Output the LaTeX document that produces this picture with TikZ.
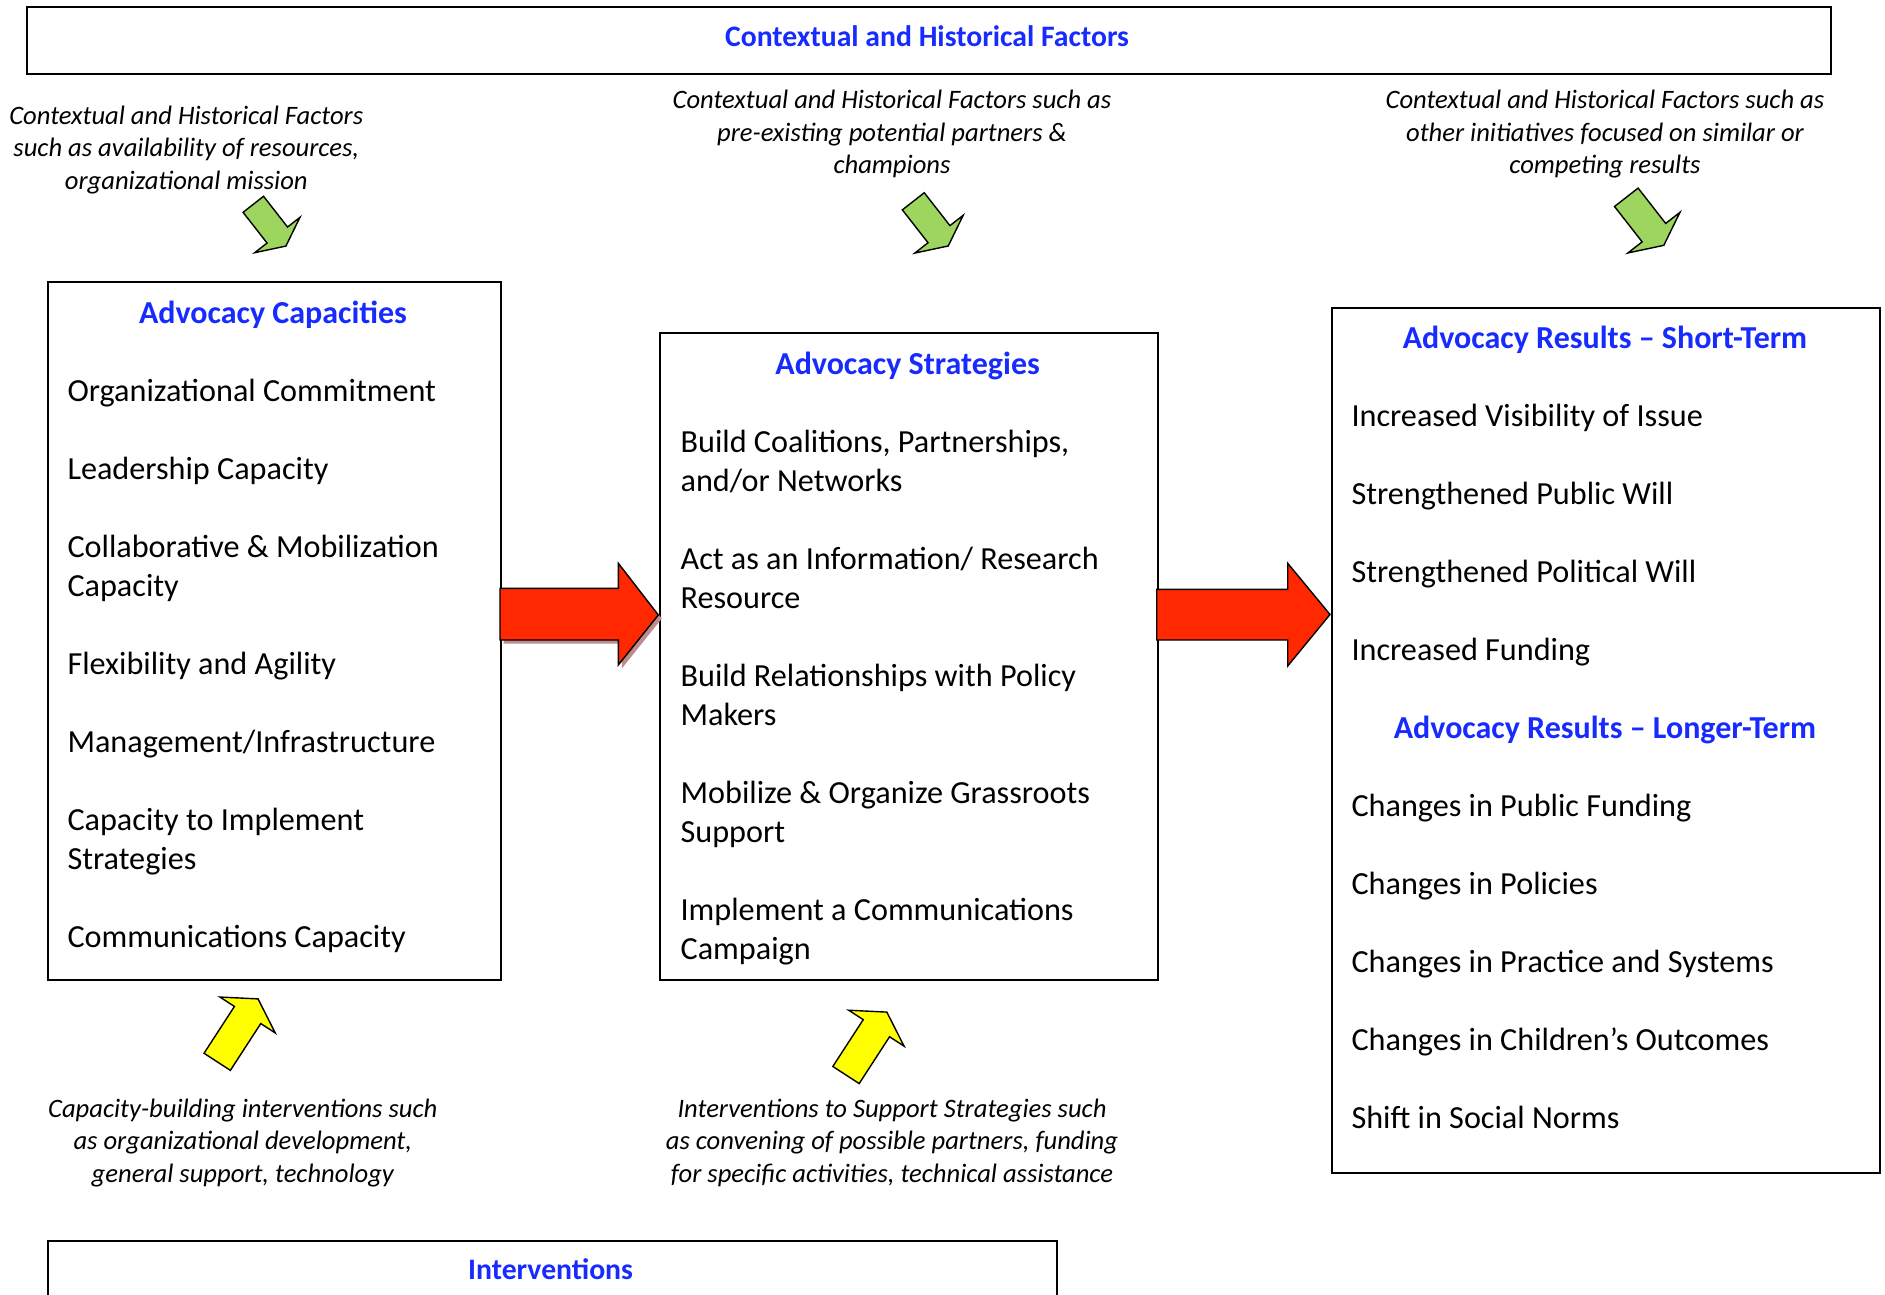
\documentclass[tikz,border=0pt]{standalone}
\usepackage{fontspec}
\setmainfont{Carlito}
\definecolor{tblue}{RGB}{23,43,255}
\definecolor{agreen}{RGB}{158,213,95}
\definecolor{ared}{RGB}{255,40,0}
\definecolor{ashadow}{RGB}{190,140,140}
\definecolor{ayellow}{RGB}{255,255,0}
\newcommand\blockarr[8]{%
  \draw[#1, shift={#2}, rotate=#3, scale=#8] (0,-#4) -- (#5,-#4) -- (#5,-#6) -- (#7,0) -- (#5,#6) -- (#5,#4) -- (0,#4) -- cycle;}
\begin{document}
\begin{tikzpicture}[x=1pt,y=-1pt,line join=miter,
  box/.style={draw, line width=2pt, fill=white, inner sep=0, anchor=north west},
  ttl/.style={font=\bfseries\fontsize{32}{38}\selectfont, text=tblue, inner sep=0, anchor=base},
  smallttl/.style={ttl, font=\bfseries\fontsize{29.7}{36}\selectfont},
  item/.style={font=\fontsize{32.2}{38}\selectfont, inner sep=0, anchor=base west},
  note/.style={font=\itshape\fontsize{26.6}{32}\selectfont, inner sep=0, anchor=base},
  garrow/.style={draw=black, line width=1.4pt, fill=agreen},
  yarrow/.style={draw=black, line width=1.4pt, fill=ayellow},
  rarrow/.style={draw=black, line width=1.4pt, fill=ared}]
\useasboundingbox (0,0) rectangle (1885,1295);
\clip (0,0) rectangle (1885,1295);
\fill[white] (0,0) rectangle (1885,1295);

% boxes
\node[box, minimum width=1803.3pt, minimum height=67.3pt] (top) at (26.4,6) {};
\node[box, minimum width=453.2pt, minimum height=697.3pt] (cap) at (46.9,281.3) {};
\node[box, minimum width=497.7pt, minimum height=646.8pt] (strat) at (658.8,331.8) {};
\node[box, minimum width=548.2pt, minimum height=865.5pt] (res) at (1330.8,306.6) {};
\node[box, minimum width=1008.6pt, minimum height=100pt] (interv) at (46.9,1239.5) {};

% titles
\node[smallttl] (toptitle) at (927,46.5) {Contextual and Historical Factors};
\node[ttl] (captitle) at (273,323.5) {Advocacy Capacities};
\node[ttl] (strattitle) at (907.6,374) {Advocacy Strategies};
\node[ttl] (restitle1) at (1605,348.5) {Advocacy Results – Short-Term};
\node[ttl] (restitle2) at (1605,738.5) {Advocacy Results – Longer-Term};
\node[smallttl] (intervtitle) at (550.6,1279) {Interventions};

% capacities
\node[item] (c1) at (67.3,401.6) {Organizational Commitment};
\node[item] (c2) at (67.3,479.6) {Leadership Capacity};
\node[item] (c3a) at (67.3,557.6) {Collaborative \& Mobilization};
\node[item] (c3b) at (67.3,596.6) {Capacity};
\node[item] (c4) at (67.3,674.6) {Flexibility and Agility};
\node[item] (c5) at (67.3,752.6) {Management/Infrastructure};
\node[item] (c6a) at (67.3,830.6) {Capacity to Implement};
\node[item] (c6b) at (67.3,869.6) {Strategies};
\node[item] (c7) at (67.3,947.6) {Communications Capacity};

% strategies
\node[item] (s1a) at (680.4,452.1) {Build Coalitions, Partnerships,};
\node[item] (s1b) at (680.4,491.1) {and/or Networks};
\node[item] (s2a) at (680.4,569.1) {Act as an Information/ Research};
\node[item] (s2b) at (680.4,608.1) {Resource};
\node[item] (s3a) at (680.4,686.1) {Build Relationships with Policy};
\node[item] (s3b) at (680.4,725.1) {Makers};
\node[item] (s4a) at (680.4,803.1) {Mobilize \& Organize Grassroots};
\node[item] (s4b) at (680.4,842.1) {Support};
\node[item] (s5a) at (680.4,920.1) {Implement a Communications};
\node[item] (s5b) at (680.4,959.1) {Campaign};

% results
\node[item] (r1) at (1351.3,426.7) {Increased Visibility of Issue};
\node[item] (r2) at (1351.3,504.7) {Strengthened Public Will};
\node[item] (r3) at (1351.3,582.7) {Strengthened Political Will};
\node[item] (r4) at (1351.3,660.7) {Increased Funding};
\node[item] (r5) at (1351.3,816.7) {Changes in Public Funding};
\node[item] (r6) at (1351.3,894.7) {Changes in Policies};
\node[item] (r7) at (1351.3,972.7) {Changes in Practice and Systems};
\node[item] (r8) at (1351.3,1050.7) {Changes in Children’s Outcomes};
\node[item] (r9) at (1351.3,1128.7) {Shift in Social Norms};

% notes top
\node[note] (tl1) at (186.3,124.3) {Contextual and Historical Factors};
\node[note] (tl2) at (186.3,156.8) {such as availability of resources,};
\node[note] (tl3) at (186.3,189.2) {organizational mission};
\node[note] (tm1) at (892,108.8) {Contextual and Historical Factors such as};
\node[note] (tm2) at (892,141.2) {pre-existing potential partners \&};
\node[note] (tm3) at (892,173.7) {champions};
\node[note] (tr1) at (1605,108.8) {Contextual and Historical Factors such as};
\node[note] (tr2) at (1605,141.2) {other initiatives focused on similar or};
\node[note] (tr3) at (1605,173.7) {competing results};

% notes bottom
\node[note] (bl1) at (242.8,1117.4) {Capacity-building interventions such};
\node[note] (bl2) at (242.8,1149.9) {as organizational development,};
\node[note] (bl3) at (242.8,1182.3) {general support, technology};
\node[note] (bm1) at (892,1117.4) {Interventions to Support Strategies such};
\node[note] (bm2) at (892,1149.9) {as convening of possible partners, funding};
\node[note] (bm3) at (892,1182.3) {for specific activities, technical assistance};

% red arrows
\fill[ashadow] (503.5,591.8) -- (621.8,591.8) -- (621.8,566.8) -- (661.8,618.5) -- (621.8,668.5) -- (621.8,643.5) -- (503.5,643.5) -- cycle;
\draw[rarrow] (500,588.3) -- (618.3,588.3) -- (618.3,563.3) -- (658.3,615) -- (618.3,665) -- (618.3,640) -- (500,640) -- cycle;
\draw[rarrow] (1156.7,589.3) -- (1287.7,589.3) -- (1287.7,563.3) -- (1330,614.5) -- (1287.7,666) -- (1287.7,640) -- (1156.7,640) -- cycle;

% green arrows
\blockarr{garrow}{(253.3,204.3)}{-52}{13}{39}{28.7}{53}{1}
\blockarr{garrow}{(913.3,201.3)}{-52}{13}{39}{28.7}{53}{1.07}
\blockarr{garrow}{(1626.3,197.3)}{-52}{13}{39}{28.7}{53}{1.15}

% yellow arrows
\blockarr{yarrow}{(217.2,1061.8)}{57}{15.7}{55.8}{33}{75}{1}
\blockarr{yarrow}{(846,1075)}{57}{15.7}{55.8}{33}{75}{1}
\end{tikzpicture}
\end{document}
